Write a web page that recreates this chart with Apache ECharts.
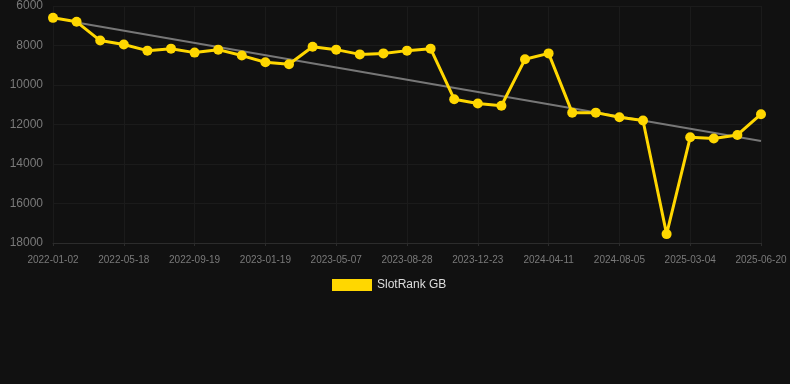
<!DOCTYPE html>
<html>
<head>
<meta charset="utf-8">
<script src="https://cdn.jsdelivr.net/npm/echarts@6/dist/echarts.min.js"></script>
<style>
html,body{margin:0;padding:0;background:#111111;}
#chart{width:790px;height:384px;}
</style>
</head>
<body>
<div id="chart"></div>
<script>
var dates = ["2022-01-02","2022-02-17","2022-04-02","2022-05-18","2022-06-28","2022-08-09","2022-09-19","2022-10-30","2022-12-10","2023-01-19","2023-02-28","2023-03-29","2023-05-07","2023-06-14","2023-07-22","2023-08-28","2023-10-07","2023-11-15","2023-12-23","2024-01-31","2024-03-05","2024-04-11","2024-05-20","2024-06-27","2024-08-05","2024-10-15","2024-12-24","2025-03-04","2025-04-10","2025-05-16","2025-06-20"];
var rankGB = [6600,6800,7750,7950,8260,8160,8360,8210,8510,8850,8950,8060,8210,8450,8400,8260,8160,10720,10940,11050,8700,8400,11400,11400,11630,11800,17550,12650,12710,12530,11480];
var trendStart = 6830;
var trendEnd = 12830;
var yTicks = [6000,8000,10000,12000,14000,16000,18000];

var trend = dates.map(function(){return null;});
trend[1] = trendStart;
trend[dates.length-1] = trendEnd;

var chart = echarts.init(document.getElementById('chart'));
chart.setOption({
  backgroundColor: '#111111',
  animation: false,
  grid: {left: 53, right: 29, top: 6, bottom: 141},
  legend: {
    data: ['SlotRank GB'],
    top: 274,
    left: 327,
    itemWidth: 40,
    itemHeight: 12,
    itemGap: 10,
    textStyle: {color: '#dddddd', fontSize: 12, fontFamily: 'Liberation Sans, Arial, sans-serif'},
    icon: 'rect'
  },
  xAxis: {
    type: 'category',
    data: dates,
    boundaryGap: false,
    axisLine: {lineStyle: {color: '#2c2c2c'}},
    axisTick: {show: true, interval: 2, length: 3, lineStyle: {color: '#2c2c2c'}},
    axisLabel: {interval: 2, color: '#7a7a7a', fontSize: 10, margin: 12, fontFamily: 'Liberation Sans, Arial, sans-serif'},
    splitLine: {show: true, interval: 2, lineStyle: {color: '#1b1b1b'}}
  },
  yAxis: {
    type: 'value',
    inverse: true,
    min: yTicks[0],
    max: yTicks[yTicks.length-1],
    interval: 2000,
    axisLine: {show: false},
    axisTick: {show: false},
    axisLabel: {color: '#7a7a7a', fontSize: 12, margin: 10, fontFamily: 'Liberation Sans, Arial, sans-serif', formatter: function(v){return String(v);}},
    splitLine: {lineStyle: {color: '#1b1b1b'}}
  },
  series: [
    {
      name: 'Trend',
      type: 'line',
      data: trend,
      connectNulls: true,
      symbol: 'none',
      lineStyle: {color: '#777777', width: 2},
      z: 1
    },
    {
      name: 'SlotRank GB',
      type: 'line',
      data: rankGB,
      symbol: 'circle',
      symbolSize: 10,
      itemStyle: {color: '#FFD700'},
      lineStyle: {color: '#FFD700', width: 3},
      z: 2
    }
  ]
});
</script>
</body>
</html>
